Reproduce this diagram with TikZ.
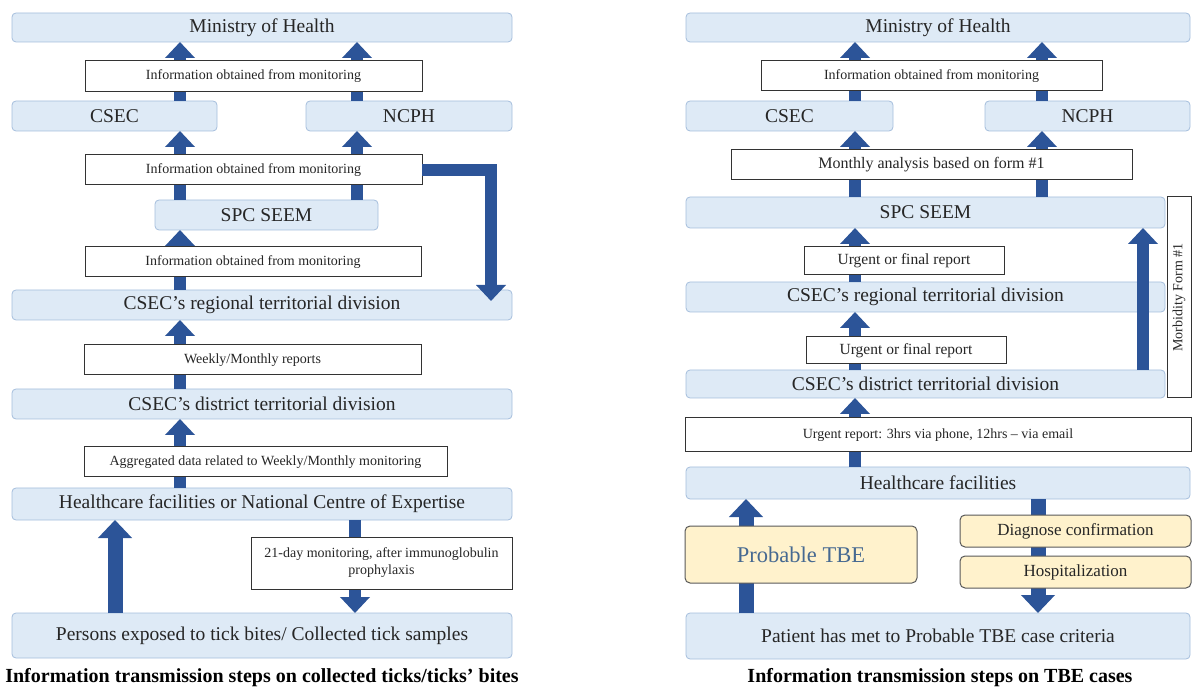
\documentclass[tikz,border=0pt]{standalone}
\usepackage{fontspec}
\setmainfont{Liberation Serif}
\usepackage{xcolor}
\usepackage{tikz}
\usetikzlibrary{arrows.meta, positioning, calc}
\definecolor{flowblue}{RGB}{44, 84, 152}
\definecolor{stagefill}{RGB}{222, 234, 246}
\definecolor{stageline}{RGB}{165, 190, 220}
\definecolor{eventfill}{RGB}{255, 242, 204}
\definecolor{tbetext}{RGB}{70, 105, 145}

\begin{document}
\begin{tikzpicture}[x=1pt, y=-1pt,
				stage/.style={draw=stageline, fill=stagefill, line width=0.8pt, rounded corners=4pt, inner sep=0pt, outer sep=0pt, font=\fontsize{19.5}{22}\selectfont, text=black!85},
				note/.style={draw=black!80, fill=white, line width=1pt, inner sep=0pt, outer sep=0pt, align=center, font=\fontsize{14}{17}\selectfont, text=black!85},
				event/.style={draw=black!65, fill=eventfill, line width=1pt, rounded corners=5pt, inner sep=0pt, outer sep=0pt, font=\fontsize{17}{20}\selectfont, text=black!85},
				flow/.style={draw=flowblue, line width=12pt, -{Triangle[width=29pt, length=16pt]}},
				bigflow/.style={draw=flowblue, line width=15pt, -{Triangle[width=33pt, length=18pt]}},
				caption/.style={font=\fontsize{20}{24}\selectfont\bfseries, text=black}
			]
			\useasboundingbox (0,0) rectangle (1192,692);

			% Columns of the arrows
			\coordinate (la) at (180,0);
			\coordinate (lb) at (357,0);
			\coordinate (lp) at (115,0);
			\coordinate (ld) at (355,0);
			\coordinate (lr) at (491,0);
			\coordinate (ra) at (855,0);
			\coordinate (rb) at (1042,0);
			\coordinate (rm) at (1143,0);
			\coordinate (rp) at (746,0);
			\coordinate (rd) at (1038,0);

			% Left: levels
			\node[stage, minimum width=500pt, minimum height=29pt] (lmoh) at (262,27.5) {Ministry of Health};
			\node[stage, minimum width=205pt, minimum height=30pt] (lcsec) at (114.5,116) {CSEC};
			\node[stage, minimum width=206pt, minimum height=30pt] (lncph) at (409,116) {NCPH};
			\node[stage, minimum width=223pt, minimum height=30pt] (lspc) at (266.5,215) {SPC SEEM};
			\node[stage, minimum width=500pt, minimum height=30pt] (lreg) at (262,305) {CSEC's regional territorial division};
			\node[stage, minimum width=500pt, minimum height=30pt] (ldist) at (262,404) {CSEC's district territorial division};
			\node[stage, minimum width=500pt, minimum height=32pt] (lhc) at (262,504) {Healthcare facilities or National Centre of Expertise};
			\node[stage, minimum width=500pt, minimum height=45pt] (lpers) at (262,635.5) {Persons exposed to tick bites/ Collected tick samples};

			% Right: levels
			\node[stage, minimum width=504pt, minimum height=29pt] (rmoh) at (938,27.5) {Ministry of Health};
			\node[stage, minimum width=207pt, minimum height=30pt] (rcsec) at (789.5,116) {CSEC};
			\node[stage, minimum width=205pt, minimum height=30pt] (rncph) at (1087.5,116) {NCPH};
			\node[stage, minimum width=479pt, minimum height=31pt] (rspc) at (925.5,212.5) {SPC SEEM};
			\node[stage, minimum width=479pt, minimum height=30pt] (rreg) at (925.5,297) {CSEC's regional territorial division};
			\node[stage, minimum width=479pt, minimum height=28pt] (rdist) at (925.5,384) {CSEC's district territorial division};
			\node[stage, minimum width=504pt, minimum height=32pt] (rhc) at (938,483) {Healthcare facilities};
			\node[stage, minimum width=504pt, minimum height=46pt] (rpat) at (938,636) {Patient has met to Probable TBE case criteria};

			% Arrows
			\draw[flow] (lcsec.north -| la) -- (lmoh.south -| la);
			\draw[flow] (lncph.north -| lb) -- (lmoh.south -| lb);
			\draw[flow] (lspc.north -| la) -- (lcsec.south -| la);
			\draw[flow] (lspc.north -| lb) -- (lncph.south -| lb);
			\draw[flow] (lreg.north -| la) -- (lspc.south -| la);
			\draw[flow] (ldist.north -| la) -- (lreg.south -| la);
			\draw[flow] (lhc.north -| la) -- (ldist.south -| la);
			\draw[bigflow] (lpers.north -| lp) -- (lhc.south -| lp);
			\draw[flow] (lhc.south -| ld) -- (lpers.north -| ld);

			\draw[flow] (rcsec.north -| ra) -- (rmoh.south -| ra);
			\draw[flow] (rncph.north -| rb) -- (rmoh.south -| rb);
			\draw[flow] (rspc.north -| ra) -- (rcsec.south -| ra);
			\draw[flow] (rspc.north -| rb) -- (rncph.south -| rb);
			\draw[flow] (rreg.north -| ra) -- (rspc.south -| ra);
			\draw[flow] (rdist.north -| ra) -- (rreg.south -| ra);
			\draw[flow] (rhc.north -| ra) -- (rdist.south -| ra);
			\draw[flow] (rdist.north -| rm) -- (rspc.south -| rm);
			\draw[bigflow] (rpat.north -| rp) -- (rhc.south -| rp);
			\draw[bigflow] (rhc.south -| rd) -- (rpat.north -| rd);

			% Labels
			\node[note, minimum width=337pt, minimum height=31pt] (linfo1) at (253.5,76.5) {Information obtained from monitoring};
			\node[note, minimum width=337pt, minimum height=30pt] (linfo2) at (253.5,170) {Information obtained from monitoring};
			\node[note, minimum width=336pt, minimum height=30pt] (linfo3) at (253,262) {Information obtained from monitoring};
			\node[note, minimum width=337pt, minimum height=30pt] (lweek) at (252.5,360) {Weekly/Monthly reports};
			\node[note, minimum width=363pt, minimum height=30pt] (laggr) at (265.5,462) {Aggregated data related to Weekly/Monthly monitoring};
			\node[note, minimum width=261pt, minimum height=52pt] (lday) at (381.5,563) {21-day monitoring, after immunoglobulin\\prophylaxis};
			\draw[flow] (linfo2.east) -| ($(lreg.north -| lr)+(0,11)$);

			\node[note, minimum width=341pt, minimum height=30pt] (rinfo) at (931.5,76) {Information obtained from monitoring};
			\node[note, minimum width=401pt, minimum height=30pt, font=\fontsize{16}{19}\selectfont] (rmonth) at (931.5,165) {Monthly analysis based on form \#1};
			\node[note, minimum width=200pt, minimum height=28pt, font=\fontsize{15.5}{18}\selectfont] (rurg1) at (904,261) {Urgent or final report};
			\node[note, minimum width=200pt, minimum height=27pt, font=\fontsize{15.5}{18}\selectfont] (rurg2) at (906,350.5) {Urgent or final report};
			\node[note, minimum width=506pt, minimum height=34pt] (rphone) at (938,435) {Urgent report: 3hrs via phone, 12hrs -- via email};
			\node[note, rotate=90, minimum width=201pt, minimum height=24pt] (rmorb) at (1179,297.5) {Morbidity Form \#1};

			\node[event, minimum width=232pt, minimum height=57pt, font=\fontsize{22.5}{26}\selectfont, text=tbetext] (rprob) at (801,554.5) {Probable TBE};
			\node[event, minimum width=231pt, minimum height=32pt] (rdiag) at (1075.5,531) {Diagnose confirmation};
			\node[event, minimum width=231pt, minimum height=32pt] (rhosp) at (1075.5,572) {Hospitalization};

			\node[caption] (lcap) at (262,678) {Information transmission steps on collected ticks/ticks' bites};
			\node[caption] (rcap) at (940,678) {Information transmission steps on TBE cases};

		\end{tikzpicture}
\end{document}
